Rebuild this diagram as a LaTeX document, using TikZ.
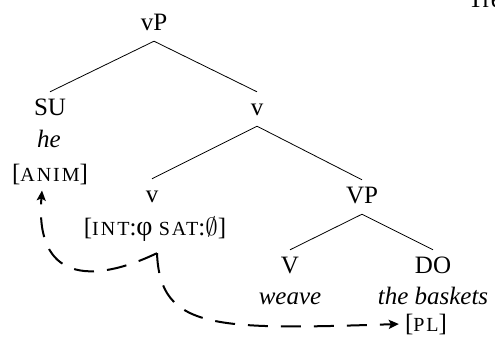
\documentclass[tikz,border=0pt]{standalone}
\usepackage{fontspec}
\setmainfont{Liberation Serif}
\usetikzlibrary{arrows.meta,calc}
% small capitals imitated with reduced, spaced-out upper case
\newcommand\fsc[1]{{\fontsize{20}{22}\selectfont\addfontfeatures{LetterSpace=10}#1}}

\begin{document}
\begin{tikzpicture}[x=1pt,y=-1pt,
  every node/.style={font=\fontsize{25}{30}\selectfont, inner sep=0pt},
  cat/.style={anchor=base, text height=17pt, text depth=5pt, inner ysep=6pt, inner xsep=2pt},
  word/.style={anchor=base, font=\fontsize{25}{30}\selectfont\itshape},
  feat/.style={anchor=base},
  branch/.style={line width=0.8pt},
  agree/.style={line width=2pt, dash pattern=on 20pt off 13pt,
                -{Stealth[length=10pt,width=9pt,inset=2pt]}}
]
\useasboundingbox (0,0) rectangle (495,340);

% heading running off the page edge
\node[anchor=base west] (head) at (468,7) {Tree};

% categories
\node[cat] (vP) at (154,30) {vP};
\node[cat] (SU) at (50,115) {SU};
\node[cat] (v1) at (257,115) {v};
\node[cat] (v2) at (152,202) {v};
\node[cat] (VP) at (362,203) {VP};
\node[cat] (V)  at (290,273) {V};
\node[cat] (DO) at (433,273) {DO};

% words and features
\node[word] (he)    at (49,147)  {he};
\node[feat] (anim)  at (50,181)  {[\fsc{ANIM}]};
\node[feat] (ints)  at (155,235) {[\fsc{INT}:{\fontsize{28}{30}\selectfont φ} \fsc{SAT}:{\fontsize{31}{31}\selectfont$\emptyset$}]};
\node[word] (weave) at (290,304) {weave};
\node[word] (bask)  at (433,304) {the baskets};
\node[feat] (pl)    at (426,331) {[\fsc{PL}]};

% branches
\draw[branch] (vP.south) -- (SU.north);
\draw[branch] (vP.south) -- (v1.north);
\draw[branch] (v1.south) -- (v2.north);
\draw[branch] (v1.south) -- (VP.north);
\draw[branch] (VP.south) -- (V.north);
\draw[branch] (VP.south) -- (DO.north);

% agreement arrows
\coordinate (hook) at ($(ints.south)+(2,12)$);
\draw[agree] (hook) .. controls (90,285) and (35,280) .. ($(anim.south)+(-8,6)$);
\draw[agree] (hook) .. controls (160,330) and (215,330) .. ($(pl.west)+(-6,0)$);
\end{tikzpicture}
\end{document}
